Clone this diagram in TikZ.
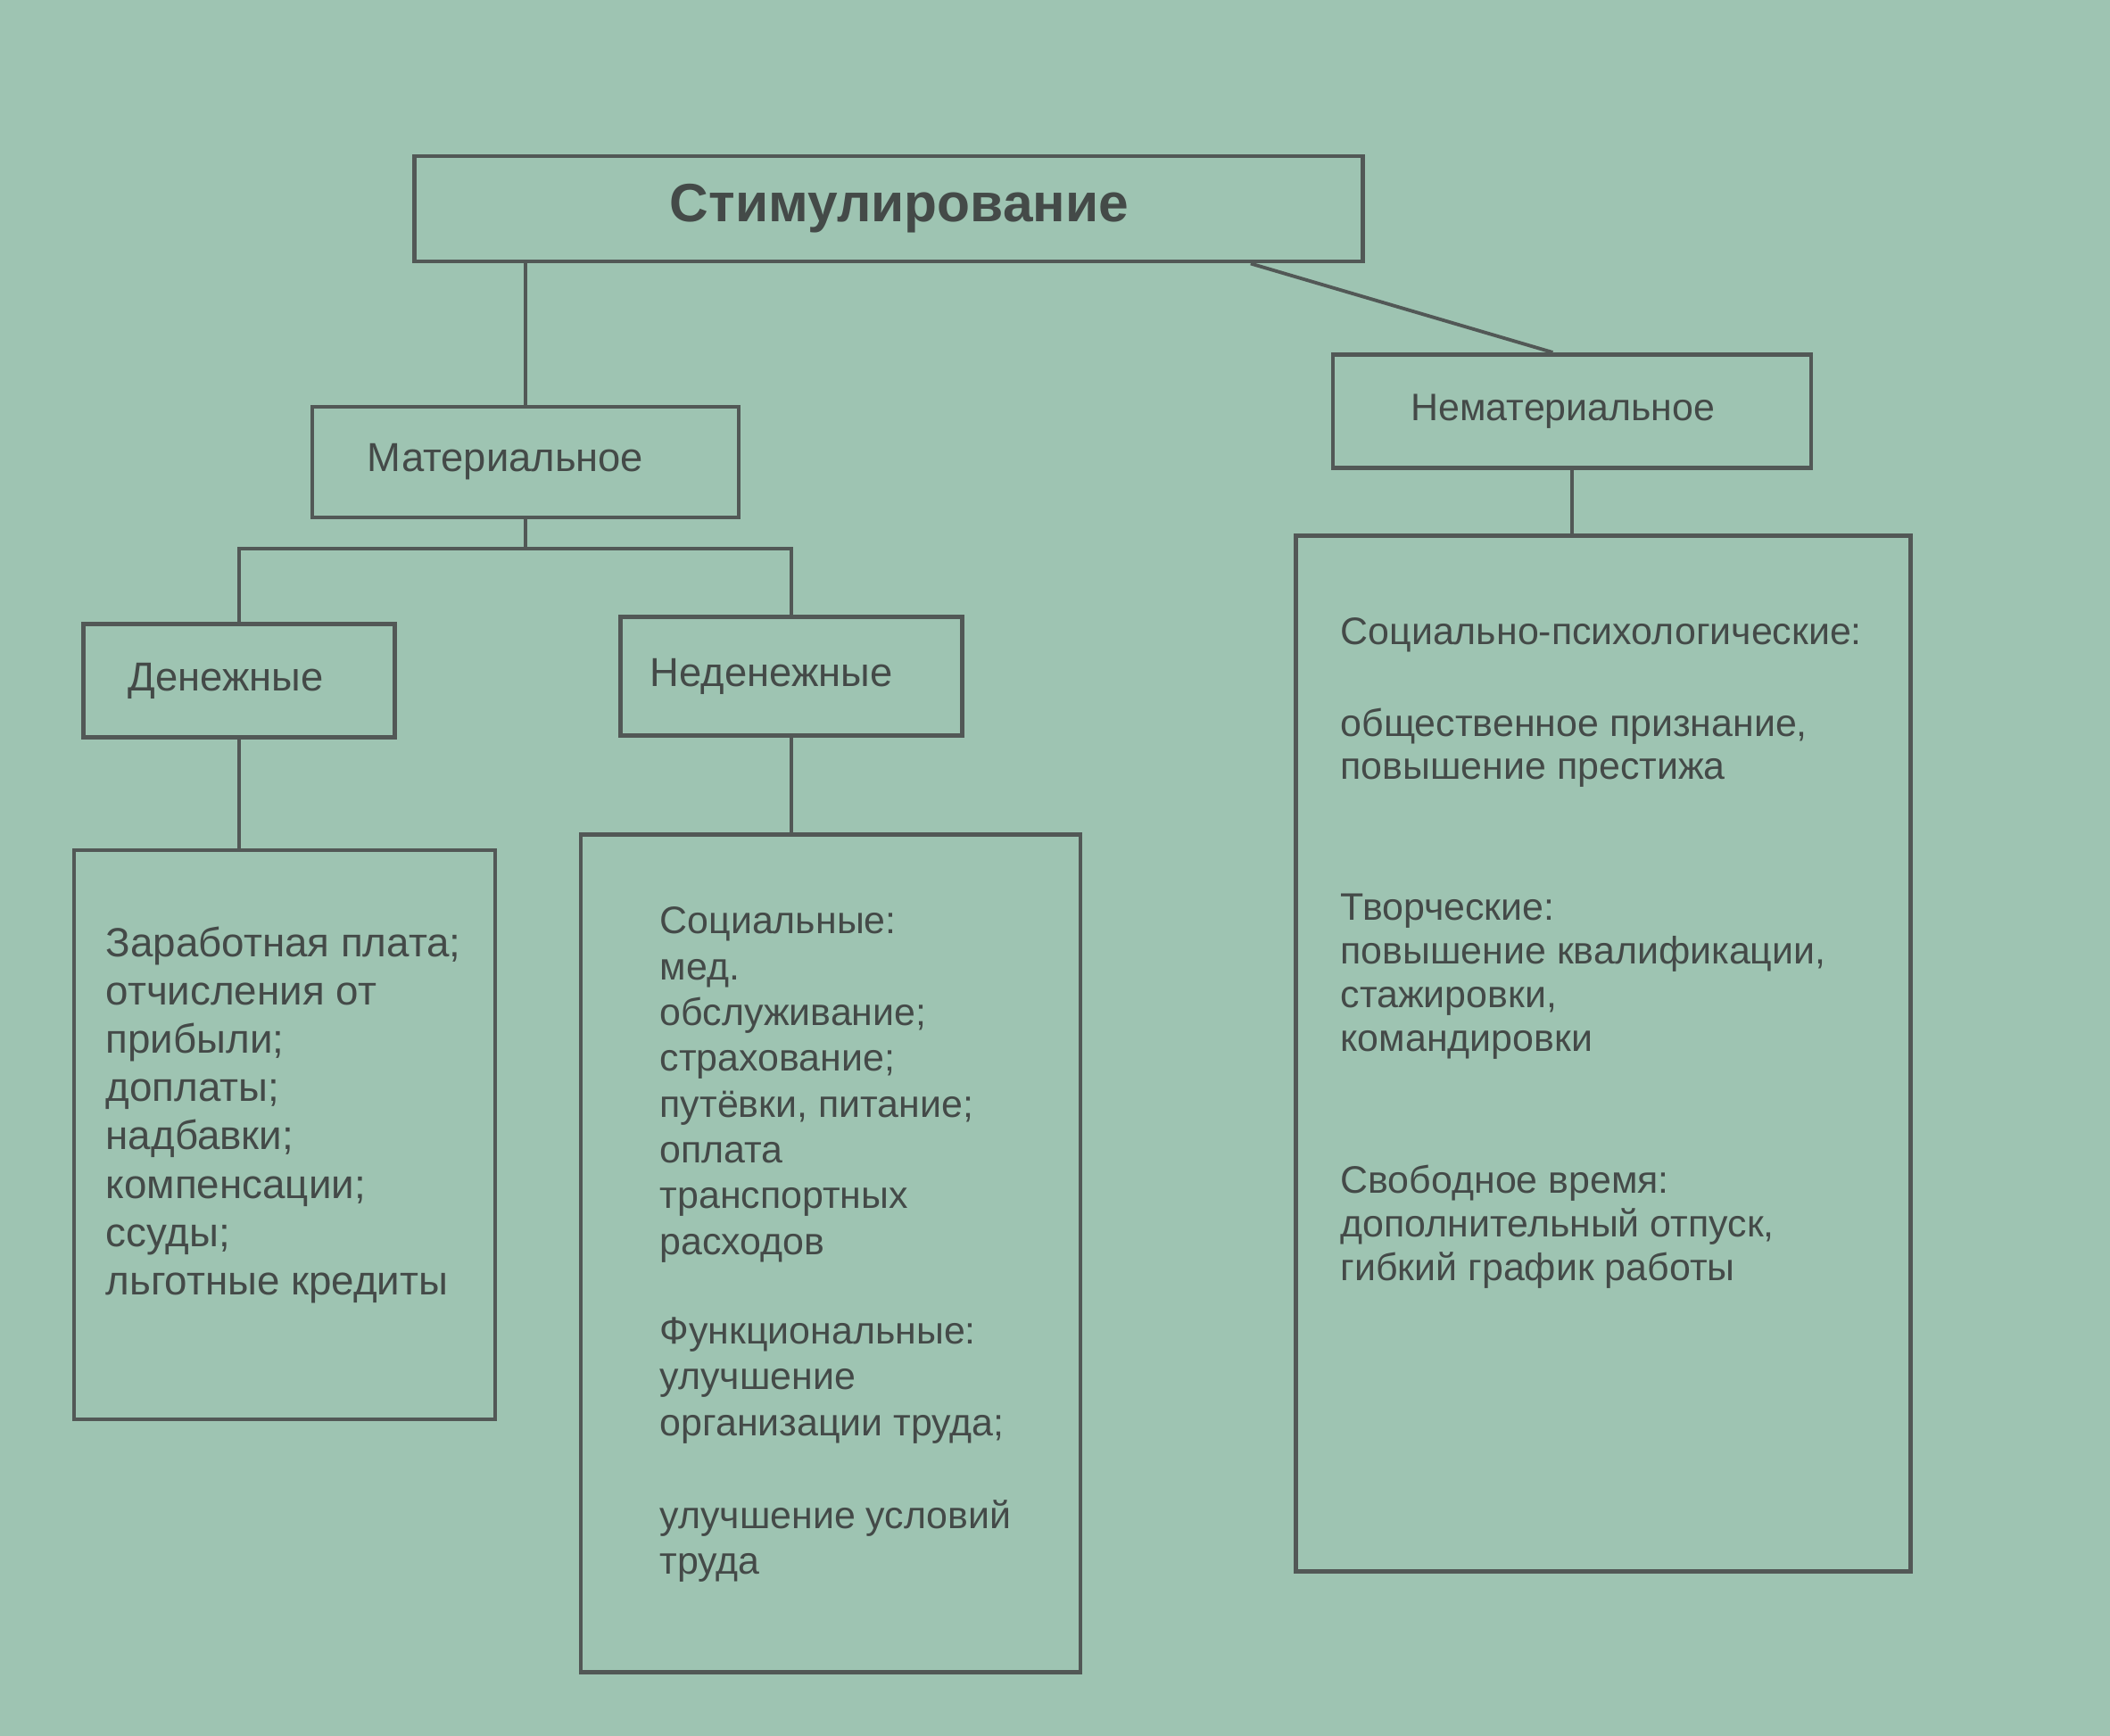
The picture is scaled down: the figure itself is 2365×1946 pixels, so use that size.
\documentclass[tikz,border=0pt]{standalone}
\usepackage{fontspec}
\setmainfont{Liberation Sans}
\usetikzlibrary{calc}
\definecolor{bg}{RGB}{158,196,178}
\definecolor{ln}{RGB}{82,88,86}
\definecolor{tx}{RGB}{68,74,72}
\begin{document}
\begin{tikzpicture}[x=0.01cm,y=-0.01cm,
  box/.style={draw=ln,line width=1.4pt,inner sep=0pt,text=tx,font=\fontsize{12.9}{15}\selectfont},
  conn/.style={draw=ln,line width=1.1pt},
  txt/.style={anchor=north west,align=left,inner sep=0pt,text=tx}]
\fill[bg] (0,0) rectangle (2365,1946);
\useasboundingbox (0,0) rectangle (2365,1946);
% boxes
\node[box,minimum width=1063*0.01cm,minimum height=118*0.01cm,font=\bfseries\fontsize{17.2}{20}\selectfont] (stim) at (996,234) {\hspace*{0.24cm}Стимулирование};
\node[box,minimum width=478*0.01cm,minimum height=124*0.01cm] (mat) at (589,518) {Материальное\hspace*{0.45cm}};
\node[box,minimum width=536*0.01cm,minimum height=127*0.01cm,font=\fontsize{12.2}{14}\selectfont] (nemat) at (1762,461) {Нематериальное\hspace*{0.2cm}};
\node[box,minimum width=349*0.01cm,minimum height=127*0.01cm] (den) at (268,763) {Денежные\hspace*{0.3cm}};
\node[box,minimum width=383*0.01cm,minimum height=133*0.01cm] (neden) at (887,758) {Неденежные\hspace*{0.45cm}};
\node[box,minimum width=472*0.01cm,minimum height=638*0.01cm] (denlist) at (319,1272) {};
\node[box,minimum width=560*0.01cm,minimum height=939*0.01cm] (nedenlist) at (931,1405) {};
\node[box,minimum width=689*0.01cm,minimum height=1161*0.01cm] (nematlist) at (1797,1181) {};
% texts
\node[txt,font=\fontsize{13}{15.4}\selectfont] (t1) at (118,1038) {Заработная плата;\\отчисления от\\прибыли;\\доплаты;\\надбавки;\\компенсации;\\ссуды;\\льготные кредиты};
\node[txt,font=\fontsize{12.2}{14.6}\selectfont] (t2) at (739,1016) {Социальные:\\мед.\\обслуживание;\\страхование;\\путёвки, питание;\\оплата\\транспортных\\расходов};
\node[txt,font=\fontsize{12.2}{14.6}\selectfont] (t3) at (739,1476) {Функциональные:\\улучшение\\организации труда;};
\node[txt,font=\fontsize{12.2}{14.6}\selectfont] (t4) at (739,1681) {улучшение условий\\труда};
\node[txt,font=\fontsize{12.2}{14}\selectfont] (t5) at (1502,692) {Социально-психологические:};
\node[txt,font=\fontsize{12.2}{13.8}\selectfont] (t6) at (1502,793) {общественное признание,\\повышение престижа};
\node[txt,font=\fontsize{12.2}{14}\selectfont] (t7) at (1502,1001) {Творческие:\\повышение квалификации,\\стажировки,\\командировки};
\node[txt,font=\fontsize{12.2}{14}\selectfont] (t8) at (1502,1305) {Свободное время:\\дополнительный отпуск,\\гибкий график работы};
% connectors
\coordinate (stimr) at ($(stim.south west)!0.88!(stim.south east)$);
\coordinate (nematt) at ($(nemat.north west)!0.46!(nemat.north east)$);
\coordinate (matbar) at (589,615);
\draw[conn] (mat.north) -- (mat.north |- stim.south);
\draw[conn] (stimr) -- (nematt);
\draw[conn] (mat.south) -- (matbar);
\draw[conn] (den.north) |- (matbar) -| (neden.north);
\draw[conn] (den.south) -- (den.south |- denlist.north);
\draw[conn] (neden.south) -- (neden.south |- nedenlist.north);
\draw[conn] (nemat.south) -- (nemat.south |- nematlist.north);
\end{tikzpicture}
\end{document}
